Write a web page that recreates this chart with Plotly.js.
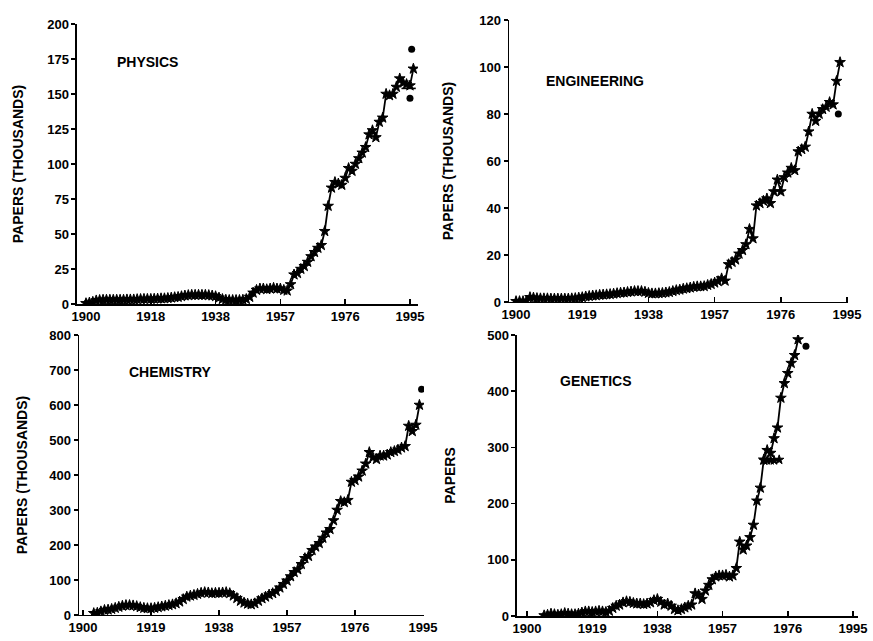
<!DOCTYPE html>
<html>
<head>
<meta charset="utf-8">
<script src="https://cdn.plot.ly/plotly-3.0.1.min.js"></script>
<style>html,body{margin:0;padding:0;background:#fff;}#chart{width:873px;height:641px;}</style>
</head>
<body>
<div id="chart"></div>
<script>
// ---------- DATA ----------
const tickYears = [1900, 1919, 1938, 1957, 1976, 1995];
const physicsTickText = ["1900", "1918", "1938", "1957", "1976", "1995"];
const otherTickText = ["1900", "1919", "1938", "1957", "1976", "1995"];

const physicsYears = [1900,1901,1902,1903,1904,1905,1906,1907,1908,1909,1910,1911,1912,1913,1914,1915,1916,1917,1918,1919,1920,1921,1922,1923,1924,1925,1926,1927,1928,1929,1930,1931,1932,1933,1934,1935,1936,1937,1938,1939,1940,1941,1942,1943,1944,1945,1946,1947,1948,1949,1950,1951,1952,1953,1954,1955,1956,1957,1958,1959,1960,1961,1962,1963,1964,1965,1966,1967,1968,1969,1970,1971,1972,1973,1974,1975,1976,1977,1978,1979,1980,1981,1982,1983,1984,1985,1986,1987,1988,1989,1990,1991,1992,1993,1994,1995,1996];
const physicsPapers = [0.5,1,1.5,2.5,2.8,3,3,3,3,3,3,3,3.2,3.2,3.2,3.4,3.5,3.6,3.6,3.6,3.7,3.8,4,4,4.2,4.5,4.8,5,5.5,6,6.3,6.5,6.5,6.5,6.5,6.5,6.3,6,5.5,4.5,3.5,3,2.8,2.8,2.8,2.8,3,3.5,5,8,10,11,11,10.5,11,11.5,11,11,10,9.5,14,21,22,25,27,30,34,37,40,42,52,70,83,87,86,85,90,97,95,100,104,108,112,121,124,119,130,133,150,149,150,155,161,158,157,156,168];
const physicsOutYears = [1995, 1995.5];
const physicsOutPapers = [147, 182];
const physicsBranchYears = [1992.5, 1996.7];
const physicsBranchPapers = [154, 154];

const engYears = [1900,1901,1902,1903,1904,1905,1906,1907,1908,1909,1910,1911,1912,1913,1914,1915,1916,1917,1918,1919,1920,1921,1922,1923,1924,1925,1926,1927,1928,1929,1930,1931,1932,1933,1934,1935,1936,1937,1938,1939,1940,1941,1942,1943,1944,1945,1946,1947,1948,1949,1950,1951,1952,1953,1954,1955,1956,1957,1958,1959,1960,1961,1962,1963,1964,1965,1966,1967,1968,1969,1970,1971,1972,1973,1974,1975,1976,1977,1978,1979,1980,1981,1982,1983,1984,1985,1986,1987,1988,1989,1990,1991,1992,1993,1994];
const engPapers = [0.3,0.3,0.3,0.5,2,1.8,1.6,1.5,1.5,1.5,1.4,1.4,1.4,1.4,1.4,1.4,1.5,1.6,1.8,2,2.3,2.5,2.7,2.8,3,3.1,3.2,3.3,3.5,3.7,3.9,4,4.2,4.4,4.6,4.6,4.6,4.3,3.8,3.6,3.6,3.7,3.8,4,4.2,4.6,5,5.2,5.6,5.8,6.1,6.4,6.6,6.6,6.7,7.2,7.6,8.2,8.8,10,9,16,17,18,20.5,22,24.5,31,27,41,42,43,44,42,47,52,47,53,55,57,56,64,65,66,72.5,80,77,80,82,83,85,84,94,102];
const engOutYears = [1992.5];
const engOutPapers = [80];

const chemYears = [1903,1904,1905,1906,1907,1908,1909,1910,1911,1912,1913,1914,1915,1916,1917,1918,1919,1920,1921,1922,1923,1924,1925,1926,1927,1928,1929,1930,1931,1932,1933,1934,1935,1936,1937,1938,1939,1940,1941,1942,1943,1944,1945,1946,1947,1948,1949,1950,1951,1952,1953,1954,1955,1956,1957,1958,1959,1960,1961,1962,1963,1964,1965,1966,1967,1968,1969,1970,1971,1972,1973,1974,1975,1976,1977,1978,1979,1980,1981,1982,1983,1984,1985,1986,1987,1988,1989,1990,1991,1992,1993,1994];
const chemPapers = [5,6,10,14,15,17,20,23,26,28,28,27,25,22,20,19,19,20,22,24,26,28,30,33,38,45,52,55,57,60,63,65,64,62,63,63,64,65,62,55,48,40,35,32,30,33,40,47,52,58,62,68,78,88,98,110,122,130,145,162,168,185,195,205,220,235,245,270,300,325,322,328,380,385,395,412,432,465,450,445,455,455,458,465,468,472,478,482,540,525,543,600];
const chemOutYears = [1994.6];
const chemOutPapers = [645];

const genYears = [1905,1906,1907,1908,1909,1910,1911,1912,1913,1914,1915,1916,1917,1918,1919,1920,1921,1922,1923,1924,1925,1926,1927,1928,1929,1930,1931,1932,1933,1934,1935,1936,1937,1938,1939,1940,1941,1942,1943,1944,1945,1946,1947,1948,1949,1950,1951,1952,1953,1954,1955,1956,1957,1958,1959,1960,1961,1962,1963,1964,1965,1966,1967,1968,1969,1970,1971,1972,1973,1974,1975,1976,1977,1978,1979];
const genPapers = [1,2,4,3,2,3,5,4,3,3,4,6,8,8,7,8,9,8,7,9,14,18,20,24,26,25,23,22,22,21,22,24,28,30,25,20,22,18,12,10,12,15,18,20,40,38,30,45,55,65,70,72,72,73,70,72,85,132,118,125,140,162,205,228,278,295,290,316,335,388,414,432,450,464,492];
const genOutYears = [1981.3];
const genOutPapers = [480];
const genBranchYears = [1969, 1970, 1971, 1972, 1973.5];
const genBranchPapers = [277, 277, 277, 277, 278];

// ---------- STYLE ----------
const FONT = "Arial, 'Liberation Sans', sans-serif";
const black = "#000";

function mainTrace(x, y, ax) {
  return {x: x, y: y, xaxis: ax.x, yaxis: ax.y, type: "scatter", mode: "lines+markers",
    line: {color: black, width: 1.8},
    marker: {color: black, symbol: "star", size: 8, line: {color: black, width: 1}},
    showlegend: false, hoverinfo: "x+y"};
}
function outTrace(x, y, ax) {
  return {x: x, y: y, xaxis: ax.x, yaxis: ax.y, type: "scatter", mode: "markers",
    marker: {color: black, symbol: "circle", size: 7},
    showlegend: false, hoverinfo: "x+y"};
}
function branchTrace(x, y, ax) {
  return {x: x, y: y, xaxis: ax.x, yaxis: ax.y, type: "scatter", mode: "lines+markers",
    line: {color: black, width: 1.8},
    marker: {color: black, symbol: "star", size: 7, line: {color: black, width: 1}},
    showlegend: false, hoverinfo: "x+y"};
}

const A1 = {x: "x", y: "y"}, A2 = {x: "x2", y: "y2"}, A3 = {x: "x3", y: "y3"}, A4 = {x: "x4", y: "y4"};

const data = [
  mainTrace(physicsYears, physicsPapers, A1),
  outTrace(physicsOutYears, physicsOutPapers, A1),
  {x: physicsBranchYears, y: physicsBranchPapers, xaxis: "x", yaxis: "y", type: "scatter", mode: "lines",
   line: {color: black, width: 1.6}, showlegend: false},
  mainTrace(engYears, engPapers, A2),
  outTrace(engOutYears, engOutPapers, A2),
  mainTrace(chemYears, chemPapers, A3),
  outTrace(chemOutYears, chemOutPapers, A3),
  mainTrace(genYears, genPapers, A4),
  branchTrace(genBranchYears, genBranchPapers, A4),
  outTrace(genOutYears, genOutPapers, A4)
];

const tickFont = {family: FONT, size: 13, color: black, weight: "bold"};
const titleFont = {family: FONT, size: 14, color: black, weight: "bold"};

function xAxis(domain, range, ticktext, anchor) {
  return {domain: domain, range: range, anchor: anchor, tickmode: "array", tickvals: tickYears, ticktext: ticktext,
    showgrid: false, zeroline: false, showline: true, linecolor: black, linewidth: 1.5,
    ticks: "inside", ticklen: 5, tickwidth: 1.5, tickcolor: black, tickfont: tickFont, fixedrange: true};
}
function yAxis(domain, range, dtick, title, standoff, anchor) {
  return {domain: domain, range: range, anchor: anchor, dtick: dtick, tick0: 0,
    showgrid: false, zeroline: false, showline: true, linecolor: black, linewidth: 1.5,
    ticks: "outside", ticklen: 4, tickwidth: 1.5, tickcolor: black, tickfont: tickFont,
    title: {text: title, font: titleFont, standoff: standoff}, fixedrange: true};
}

const layout = {
  width: 873, height: 641,
  margin: {l: 0, r: 0, t: 0, b: 0},
  paper_bgcolor: "#fff", plot_bgcolor: "#fff",
  font: {family: FONT, color: black},
  xaxis: xAxis([0.0882, 0.4788], [1897.36, 1997.35], physicsTickText, "y"),
  yaxis: yAxis([0.5257, 0.9626], [0, 200], 25, "PAPERS (THOUSANDS)", 20, "x"),
  xaxis2: xAxis([0.5831, 0.9714], [1897.99, 1995.29], otherTickText, "y2"),
  yaxis2: yAxis([0.5289, 0.9688], [0, 120], 20, "PAPERS (THOUSANDS)", 22, "x2"),
  xaxis3: xAxis([0.0905, 0.4857], [1898.88, 1995.28], otherTickText, "y3"),
  yaxis3: yAxis([0.0406, 0.4774], [0, 800], 100, "PAPERS (THOUSANDS)", 18, "x3"),
  xaxis4: xAxis([0.5922, 0.9828], [1897.09, 1996.46], otherTickText, "y4"),
  yaxis4: yAxis([0.039, 0.4774], [0, 500], 100, "PAPERS", 28, "x4"),
  annotations: [
    {text: "PHYSICS", x: 115 / 873, y: 1 - 62 / 641, xref: "paper", yref: "paper", xanchor: "left", yanchor: "middle", showarrow: false, font: titleFont},
    {text: "ENGINEERING", x: 544 / 873, y: 1 - 81 / 641, xref: "paper", yref: "paper", xanchor: "left", yanchor: "middle", showarrow: false, font: titleFont},
    {text: "CHEMISTRY", x: 127 / 873, y: 1 - 372 / 641, xref: "paper", yref: "paper", xanchor: "left", yanchor: "middle", showarrow: false, font: titleFont},
    {text: "GENETICS", x: 558 / 873, y: 1 - 381 / 641, xref: "paper", yref: "paper", xanchor: "left", yanchor: "middle", showarrow: false, font: titleFont}
  ]
};

Plotly.newPlot("chart", data, layout, {displayModeBar: false, staticPlot: true});
</script>
</body>
</html>
